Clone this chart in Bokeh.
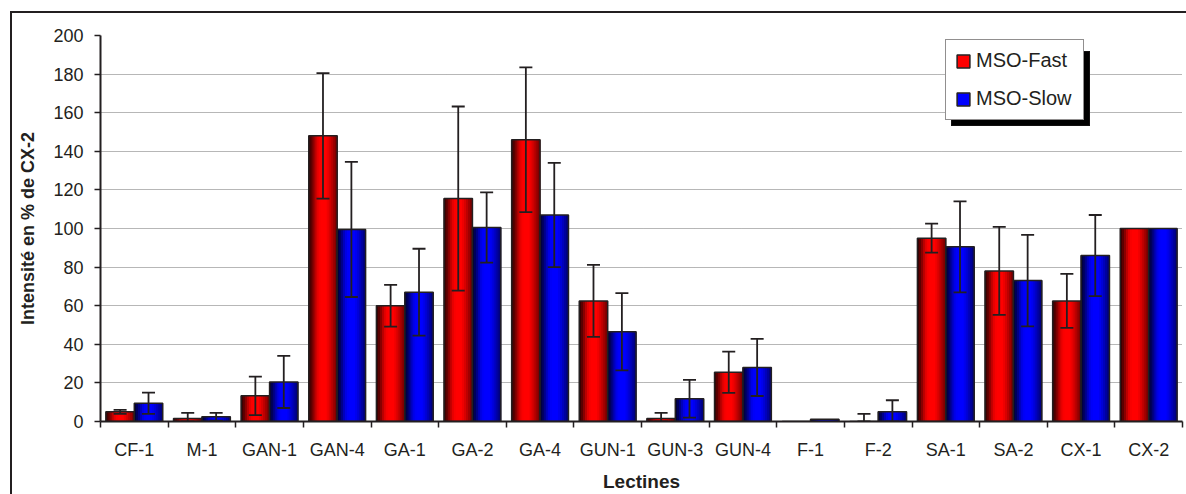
import numpy as np
from bokeh.plotting import figure
from bokeh.models import (ColumnDataSource, Range1d, FixedTicker, Legend, LegendItem,
                          Whisker, TeeHead)
from bokeh.transform import dodge
from bokeh.embed import file_html
from bokeh.resources import INLINE

# ---------------- data ----------------
categories = ["CF-1", "M-1", "GAN-1", "GAN-4", "GA-1", "GA-2", "GA-4", "GUN-1",
              "GUN-3", "GUN-4", "F-1", "F-2", "SA-1", "SA-2", "CX-1", "CX-2"]
fast_values = [5, 1.5, 13.3, 148, 60, 115.5, 146, 62.5, 1.5, 25.5, 0, 0, 95, 78, 62.5, 100]
fast_errors = [1, 3, 10, 32.5, 10.8, 47.7, 37.5, 18.7, 3, 10.7, 0, 4, 7.5, 22.8, 14, 0]
slow_values = [9.5, 2.5, 20.5, 99.5, 67, 100.5, 107, 46.5, 11.8, 28, 1.2, 5, 90.5, 73, 86, 100]
slow_errors = [5.5, 2, 13.5, 35, 22.5, 18.2, 27, 20, 9.8, 14.8, 0, 6, 23.6, 23.7, 21, 0]
series_names = ["MSO-Fast", "MSO-Slow"]
y_ticks = [0, 20, 40, 60, 80, 100, 120, 140, 160, 180, 200]

# ---------------- style ----------------
FONT = "Liberation Sans"
INK = "#231f20"
BAR_W = 0.42
OFFS = [-0.21, 0.21]
PROFILE = [0.22, 0.36, 0.54, 0.74, 0.9, 0.98, 1.0, 1.0, 1.0, 0.94, 0.85, 0.74, 0.62, 0.5]

n = len(categories)
centers = np.arange(n) + 0.5

p = figure(width=1186, height=494, output_backend="svg", toolbar_location=None,
           x_range=Range1d(0, n), y_range=Range1d(0, 200),
           min_border_left=100, min_border_right=4, min_border_top=35, min_border_bottom=72)
p.border_fill_alpha = 0
p.background_fill_color = "white"
p.outline_line_color = None
p.styles = {
    "background-image": f"linear-gradient({INK},{INK}), linear-gradient({INK},{INK})",
    "background-size": "2px 100%, 100% 2px",
    "background-position": "10px 11px, 10px 11px",
    "background-repeat": "no-repeat",
}

# axes
p.yaxis.ticker = FixedTicker(ticks=y_ticks)
p.xaxis.ticker = FixedTicker(ticks=list(centers), minor_ticks=list(range(n + 1)))
p.xaxis.major_label_overrides = {float(c): lab for c, lab in zip(centers, categories)}
for ax in (p.xaxis[0], p.yaxis[0]):
    ax.axis_line_color = INK
    ax.axis_line_width = 2
    ax.major_label_text_font = FONT
    ax.major_label_text_font_size = "18px"
    ax.major_label_text_color = INK
    ax.axis_label_text_font = FONT
    ax.axis_label_text_font_style = "bold"
    ax.axis_label_text_color = INK
p.xaxis.major_tick_line_color = None
p.xaxis.minor_tick_line_color = INK
p.xaxis.minor_tick_line_width = 1.5
p.xaxis.minor_tick_out = 6
p.xaxis.minor_tick_in = 0
p.xaxis.major_label_standoff = 12
p.xaxis.axis_label = "Lectines"
p.xaxis.axis_label_text_font_size = "19px"
p.xaxis.axis_label_standoff = 8

p.yaxis.major_tick_line_color = INK
p.yaxis.major_tick_line_width = 1.5
p.yaxis.major_tick_out = 6
p.yaxis.major_tick_in = 0
p.yaxis.minor_tick_line_color = None
p.yaxis.major_label_standoff = 11
p.yaxis.axis_label = "Intensité en % de CX-2"
p.yaxis.axis_label_text_font_size = "18px"
p.yaxis.axis_label_standoff = 12

p.xgrid.grid_line_color = None
p.ygrid.grid_line_color = "#6f6f6f"
p.ygrid.grid_line_dash = "1 1"
p.ygrid.grid_line_width = 1

# bars
def shade(rgb, b):
    r, g, bl = rgb
    return "#%02x%02x%02x" % (int(r * b), int(g * b), int(bl * b))

legend_refs = []
for vals, errs, off, rgb in [(fast_values, fast_errors, OFFS[0], (255, 0, 0)),
                             (slow_values, slow_errors, OFFS[1], (0, 0, 255))]:
    src = ColumnDataSource(dict(x=centers, top=vals))
    base = p.vbar(x=dodge("x", off, range=p.x_range), top="top", bottom=0, width=BAR_W,
                  source=src, fill_color=shade(rgb, 1.0), line_color=None)
    sw = BAR_W / len(PROFILE)
    for k, b in enumerate(PROFILE):
        p.vbar(x=dodge("x", off - BAR_W / 2 + (k + 0.5) * sw, range=p.x_range), top="top",
               bottom=0, width=sw * 1.35, source=src, fill_color=shade(rgb, b), line_color=None)
    outline = p.vbar(x=dodge("x", off, range=p.x_range), top="top", bottom=0, width=BAR_W,
                     source=src, fill_color=None, line_color=INK, line_width=1.5)
    legend_refs.append([base, outline])

    v = np.array(vals, dtype=float)
    e = np.array(errs, dtype=float)
    keep = e > 0
    wsrc = ColumnDataSource(dict(base=(centers + off)[keep], upper=(v + e)[keep],
                                 lower=np.maximum(v - e, 0)[keep]))
    p.add_layout(Whisker(source=wsrc, base="base", upper="upper", lower="lower",
                         dimension="height", line_color=INK, line_width=1.8, level="overlay",
                         upper_head=TeeHead(size=13, line_color=INK, line_width=1.8),
                         lower_head=TeeHead(size=13, line_color=INK, line_width=1.8)))

def make_legend(loc, bg, labels, text_color):
    items = [LegendItem(label=lab, renderers=refs) for lab, refs in zip(labels, legend_refs)]
    return Legend(items=items, location=loc, margin=0, padding=9, spacing=15,
                  glyph_width=16, glyph_height=16, label_height=20, label_width=98,
                  label_standoff=5, label_text_font=FONT, label_text_font_size="20px",
                  label_text_color=text_color, background_fill_color=bg, background_fill_alpha=1,
                  border_line_color=INK, border_line_width=1.5)

# drop shadow of the legend, then the legend itself
p.add_layout(make_legend((851, 295), "#000000", [" ", " "], "#000000"), "center")
p.add_layout(make_legend((845, 301), "#ffffff", series_names, INK), "center")

open("out.html", "w").write(file_html(p, INLINE))
